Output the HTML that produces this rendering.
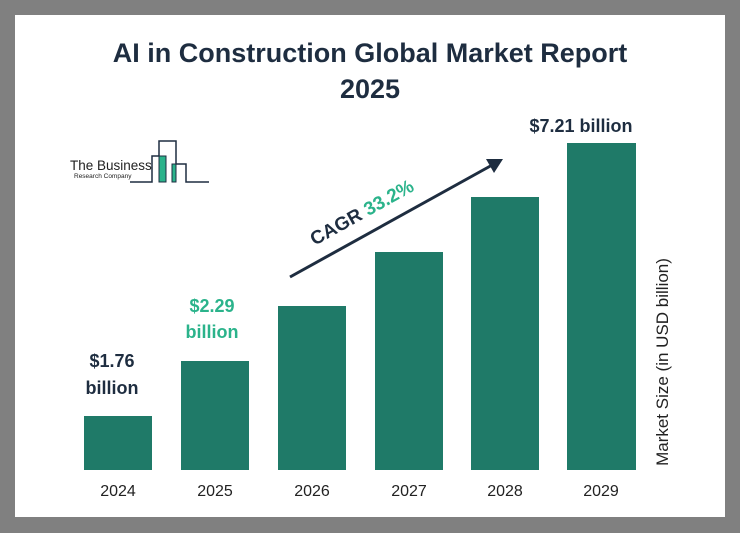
<!DOCTYPE html>
<html><head><style>
body{margin:0;width:740px;height:533px;background:#808080;overflow:hidden;font-family:"Liberation Sans",sans-serif}
</style></head><body>
<svg width="740" height="533" viewBox="0 0 740 533" style="position:absolute;left:0;top:0">
<rect x="15" y="15" width="710" height="502" fill="#fff"/>
<text x="370" y="62" text-anchor="middle" font-size="27" font-weight="bold" fill="#1e2d40">AI in Construction Global Market Report</text>
<text x="370" y="98" text-anchor="middle" font-size="27" font-weight="bold" fill="#1e2d40">2025</text>
<!-- logo -->
<text x="70" y="170" font-size="13.5" fill="#222">The Business</text>
<text x="74" y="178" font-size="6.5" fill="#222">Research Company</text>
<path d="M130 182 H152 V156 H159 V141 H176 V164 H186 V182 H209" fill="none" stroke="#1e2d40" stroke-width="1.5"/>
<rect x="159" y="156" width="7" height="26" fill="#2bb38b" stroke="#1e2d40" stroke-width="1"/>
<rect x="172" y="164" width="4" height="18" fill="#2bb38b" stroke="#1e2d40" stroke-width="1"/>
<!-- bars -->
<g fill="#1f7a68">
<rect x="84" y="416" width="68" height="54"/>
<rect x="181" y="361" width="68" height="109"/>
<rect x="278" y="306" width="68" height="164"/>
<rect x="375" y="252" width="68" height="218"/>
<rect x="471" y="197" width="68" height="273"/>
<rect x="567" y="143" width="69" height="327"/>
</g>
<g font-size="16" fill="#222" text-anchor="middle">
<text x="118" y="496">2024</text><text x="215" y="496">2025</text><text x="312" y="496">2026</text>
<text x="409" y="496">2027</text><text x="505" y="496">2028</text><text x="601" y="496">2029</text>
</g>
<g font-size="18" font-weight="bold" text-anchor="middle">
<text x="112" y="367" fill="#1e2d40">$1.76</text><text x="112" y="394" fill="#1e2d40">billion</text>
<text x="212" y="312" fill="#2bb38b">$2.29</text><text x="212" y="338" fill="#2bb38b">billion</text>
<text x="581" y="132" fill="#1e2d40">$7.21 billion</text>
</g>
<line x1="290" y1="277" x2="494" y2="164" stroke="#1e2d40" stroke-width="3"/>
<polygon points="503,159 486,159 494,173" fill="#1e2d40"/>
<text transform="translate(365,218) rotate(-29)" text-anchor="middle" font-size="19" font-weight="bold"><tspan fill="#1e2d40">CAGR </tspan><tspan fill="#2bb38b">33.2%</tspan></text>
<text transform="translate(668,362) rotate(-90)" text-anchor="middle" font-size="17" fill="#222">Market Size (in USD billion)</text>
</svg>
</body></html>
